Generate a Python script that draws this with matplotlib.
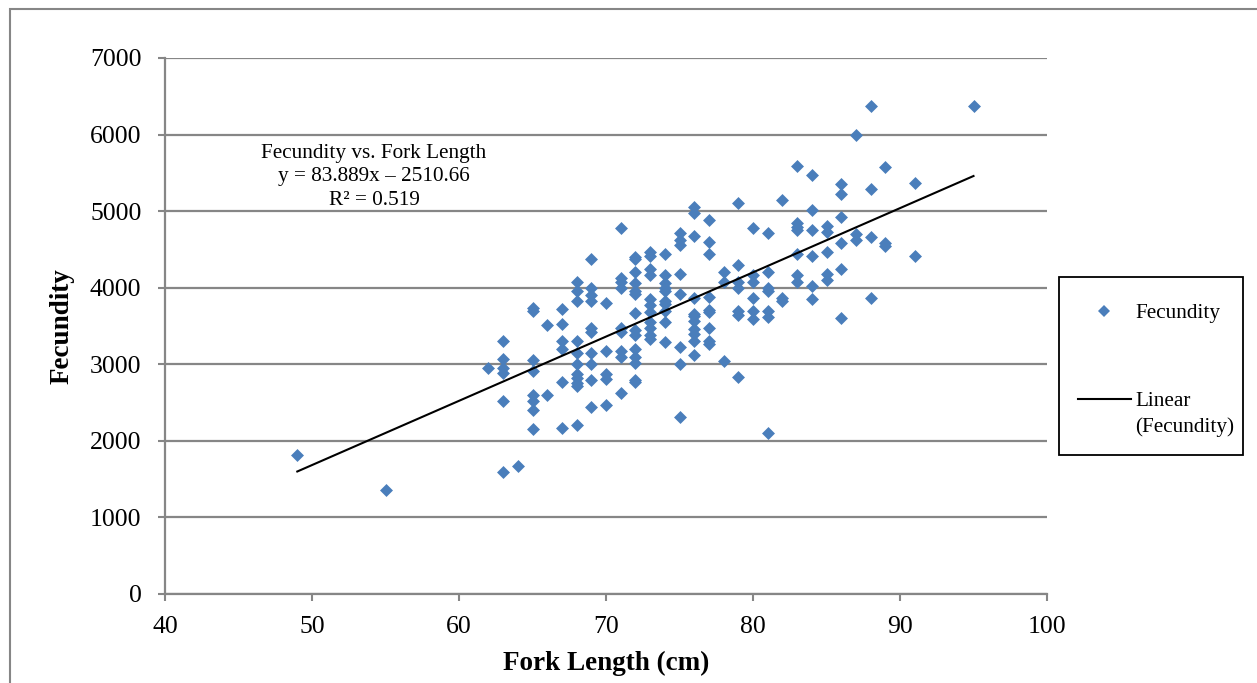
import matplotlib
matplotlib.use("Agg")
import matplotlib.pyplot as plt
from matplotlib.lines import Line2D
from matplotlib.patches import Rectangle
import numpy as np

plt.rcParams['font.family'] = ['Liberation Serif', 'DejaVu Serif']

# Data: fork length (cm) -> list of fecundity values
fork_49 = [1820]
fork_55 = [1360]
fork_62 = [2950]
fork_63 = [3300, 3070, 2950, 2880, 2520, 1590]
fork_64 = [1670]
fork_65 = [3730, 3700, 3060, 2910, 2600, 2520, 2400, 2160]
fork_66 = [3510, 2600]
fork_67 = [3720, 3520, 3300, 3200, 2770, 2170]
fork_68 = [4080, 3960, 3820, 3300, 3150, 3000, 2870, 2820, 2750, 2720, 2210]
fork_69 = [4370, 4000, 3900, 3820, 3470, 3420, 3150, 3000, 2800, 2440]
fork_70 = [3800, 3180, 2870, 2810, 2470]
fork_71 = [4780, 4130, 4080, 4000, 3480, 3420, 3180, 3100, 2630]
fork_72 = [4400, 4370, 4200, 4060, 3960, 3920, 3670, 3450, 3380, 3200, 3100, 3020, 2790, 2770]
fork_73 = [4470, 4420, 4250, 4170, 3850, 3780, 3680, 3550, 3480, 3380, 3330]
fork_74 = [4440, 4170, 4060, 4000, 3960, 3830, 3790, 3690, 3550, 3290]
fork_75 = [4720, 4620, 4560, 4180, 3920, 3220, 3000, 2310]
fork_76 = [5050, 4970, 4670, 3870, 3660, 3630, 3560, 3460, 3400, 3310, 3120]
fork_77 = [4880, 4600, 4440, 3880, 3710, 3680, 3480, 3310, 3260]
fork_78 = [4200, 4080, 3040]
fork_79 = [5100, 4300, 4080, 4000, 3700, 3640, 2830]
fork_80 = [4780, 4170, 4080, 3870, 3690, 3590]
fork_81 = [4720, 4210, 4000, 3960, 3700, 3620, 2100]
fork_82 = [5150, 3870, 3820]
fork_83 = [5590, 4850, 4790, 4750, 4440, 4170, 4080]
fork_84 = [5470, 5010, 4760, 4420, 4020, 3850]
fork_85 = [4800, 4730, 4470, 4180, 4100]
fork_86 = [5350, 5220, 4920, 4580, 4250, 3600]
fork_87 = [6000, 4700, 4620]
fork_88 = [6370, 5290, 4660, 3870]
fork_89 = [5570, 4580, 4550]
fork_91 = [5370, 4410]
fork_95 = [6370]

groups = {49: fork_49, 55: fork_55, 62: fork_62, 63: fork_63, 64: fork_64,
          65: fork_65, 66: fork_66, 67: fork_67, 68: fork_68, 69: fork_69,
          70: fork_70, 71: fork_71, 72: fork_72, 73: fork_73, 74: fork_74,
          75: fork_75, 76: fork_76, 77: fork_77, 78: fork_78, 79: fork_79,
          80: fork_80, 81: fork_81, 82: fork_82, 83: fork_83, 84: fork_84,
          85: fork_85, 86: fork_86, 87: fork_87, 88: fork_88, 89: fork_89,
          91: fork_91, 95: fork_95}

# Trendline coefficients as stated in the chart
slope = 83.889
intercept = -2510.66

x_ticks = [40, 50, 60, 70, 80, 90, 100]
y_ticks = [0, 1000, 2000, 3000, 4000, 5000, 6000, 7000]

series_label = 'Fecundity'
trend_label = ['Linear', '(Fecundity)']

xs = np.array([k for k, v in groups.items() for _ in v], dtype=float)
ys = np.array([y for v in groups.values() for y in v], dtype=float)

W, H = 1257, 683
fig = plt.figure(figsize=(W / 100, H / 100), dpi=100)
ax = fig.add_axes([165 / W, (H - 594) / H, 882 / W, 536 / H])

grid_c = '#868686'
marker_c = '#4A7EBB'
ax.set_xlim(40, 100)
ax.set_ylim(0, 7000)
ax.set_xticks(x_ticks)
ax.set_yticks(y_ticks)
ax.yaxis.grid(True, color=grid_c, linewidth=1.6)
ax.set_axisbelow(True)
for s in ['top', 'right']:
    ax.spines[s].set_visible(False)
for s in ['left', 'bottom']:
    ax.spines[s].set_color(grid_c)
    ax.spines[s].set_linewidth(1.6)
ax.tick_params(axis='both', direction='out', length=5, width=1.5, color=grid_c,
               labelsize=18.5)
ax.tick_params(axis='x', pad=11)
ax.tick_params(axis='y', pad=12)

ax.scatter(xs, ys, marker='D', s=6.6 ** 2, color=marker_c, linewidths=0,
           zorder=3)
xl = np.array([xs.min(), xs.max()])
ax.plot(xl, slope * xl + intercept, color='black', linewidth=1.5, zorder=4)

ax.set_xlabel('Fork Length (cm)', fontsize=19.5, fontweight='bold', labelpad=9)
ax.set_ylabel('Fecundity', fontsize=19.5, fontweight='bold', labelpad=11)

fig.text(374 / W, 1 - 177 / H,
         'Fecundity vs. Fork Length\ny = 83.889x \u2013 2510.66\nR\u00b2 = 0.519',
         ha='center', va='center', fontsize=15.3, linespacing=1.3)

# legend (drawn as a framed key to the right of the plot)
def fx(px):
    return px / W

def fy(py):
    return 1 - py / H

fig.patches.append(Rectangle((fx(1059), fy(455)), fx(1243) - fx(1059),
                             fy(277) - fy(455), transform=fig.transFigure,
                             fill=False, edgecolor='black', linewidth=1.3))
fig.lines.append(Line2D([fx(1104)], [fy(311)], transform=fig.transFigure,
                        marker='D', markersize=6.3, color=marker_c,
                        markeredgewidth=0, linestyle='none'))
fig.lines.append(Line2D([fx(1078), fx(1131)], [fy(399), fy(399)],
                        transform=fig.transFigure, color='black', linewidth=1.5))
fig.text(fx(1135), fy(311), series_label, ha='left', va='center_baseline',
         fontsize=15.3)
fig.text(fx(1135), fy(399), trend_label[0], ha='left', va='center_baseline',
         fontsize=15.3)
fig.text(fx(1135), fy(425), trend_label[1], ha='left', va='center_baseline',
         fontsize=15.3)

# outer chart border
fig.patches.append(Rectangle((10 / W, -0.05), 1.2, 1 - 9 / H + 0.05,
                             transform=fig.transFigure, fill=False,
                             edgecolor=grid_c, linewidth=1.5))

fig.savefig('out.png', dpi=100)
